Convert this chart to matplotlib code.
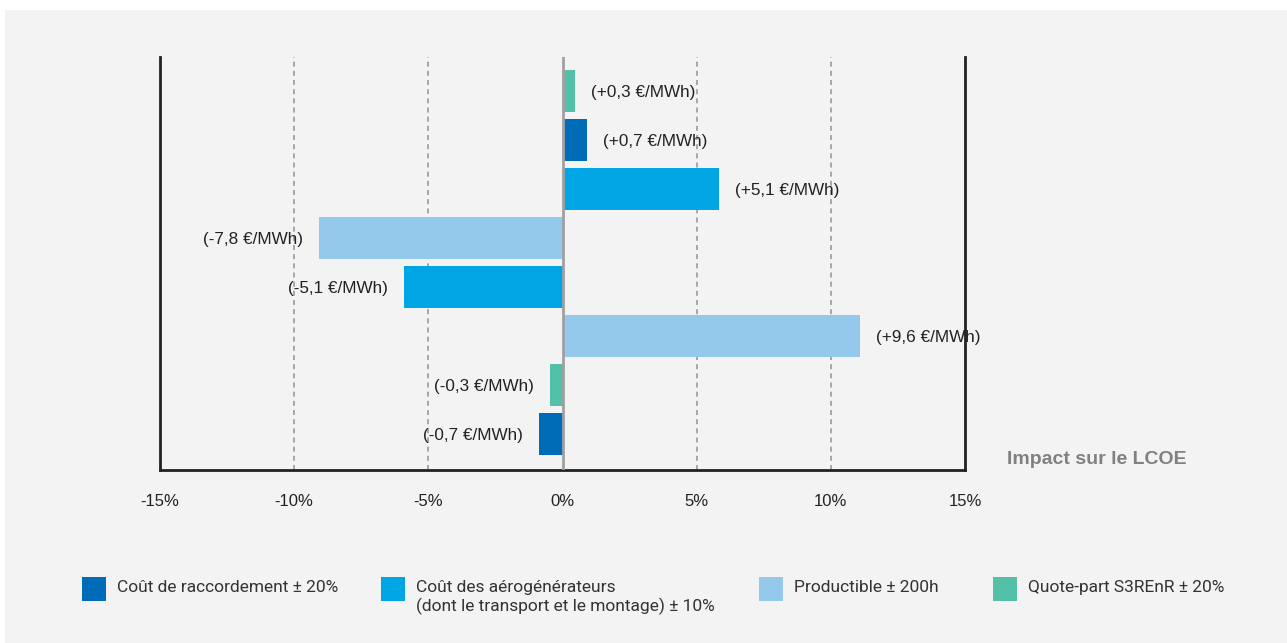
import matplotlib.pyplot as plt
from matplotlib.patches import Rectangle

# bars from top to bottom, impact in % of LCOE
valeurs = [0.47, 0.91, 5.83, -9.07, -5.9, 11.09, -0.47, -0.88]
etiquettes = ['(+0,3 €/MWh)', '(+0,7 €/MWh)', '(+5,1 €/MWh)', '(-7,8 €/MWh)',
              '(-5,1 €/MWh)', '(+9,6 €/MWh)', '(-0,3 €/MWh)', '(-0,7 €/MWh)']
series = [3, 0, 1, 2, 1, 2, 3, 0]
legende = ['Coût de raccordement ± 20%',
           'Coût des aérogénérateurs\n(dont le transport et le montage) ± 10%',
           'Productible ± 200h', 'Quote-part S3REnR ± 20%']
couleurs = ['#006bb6', '#00a6e4', '#94c9ec', '#53c1a7']
xticks = [-15, -10, -5, 0, 5, 10, 15]

fond = '#f3f3f3'
W, H = 1287, 643
fig = plt.figure(figsize=(12.87, 6.43), dpi=100)
fig.patch.set_facecolor('white')
fig.patches.append(Rectangle((5 / W, 0), 1, 1 - 10 / H, transform=fig.transFigure,
                             facecolor=fond, edgecolor='none', zorder=-10))

ax = fig.add_axes([160 / W, 1 - 470 / H, (965 - 160) / W, (470 - 57) / H])
ax.patch.set_alpha(0)

ypos = list(range(len(valeurs)))
ax.barh(ypos, valeurs, height=0.857, color=[couleurs[s] for s in series], zorder=3)
for y, v, t in zip(ypos, valeurs, etiquettes):
    dx = 16 if v >= 0 else -16
    ax.annotate(t, (v, y), xytext=(dx, -1), textcoords='offset pixels',
                ha='left' if v >= 0 else 'right', va='center', fontsize=12.3,
                family='Liberation Sans', color='#222222')

ax.axvline(0, color='#a0a0a4', lw=2, zorder=4)
for g in [-10, -5, 5, 10]:
    ax.axvline(g, color='#9a9a9a', lw=1.2, ls=(0, (3, 2.5)), zorder=1)

ax.set_xlim(-15, 15)
ax.set_ylim(7.73, -0.7)
ax.set_xticks(xticks)
ax.set_xticklabels([f'{t}%' for t in xticks], fontsize=12, family='Liberation Sans', color='#222222')
ax.set_yticks([])
ax.tick_params(axis='x', length=0, pad=17)
ax.spines['top'].set_visible(False)
for s in ['left', 'right', 'bottom']:
    ax.spines[s].set_color('#222222')
    ax.spines[s].set_linewidth(2)

fig.text(1007 / W, 1 - 459 / H, 'Impact sur le LCOE', fontsize=14, fontweight='bold',
         family='Liberation Sans', color='#808083', ha='left', va='center')

# legend
px = [82, 381, 759, 993]
for x0, lab, c in zip(px, legende, couleurs):
    fig.patches.append(Rectangle((x0 / W, 1 - 601 / H), 24 / W, 24 / H,
                                 transform=fig.transFigure, facecolor=c, edgecolor='none'))
    fig.text((x0 + 35) / W, 1 - 580 / H, lab, fontsize=12.5, family='Roboto',
             color='#333333', ha='left', va='top', linespacing=1.22)

fig.savefig('out.png', dpi=100, facecolor=fig.get_facecolor())
